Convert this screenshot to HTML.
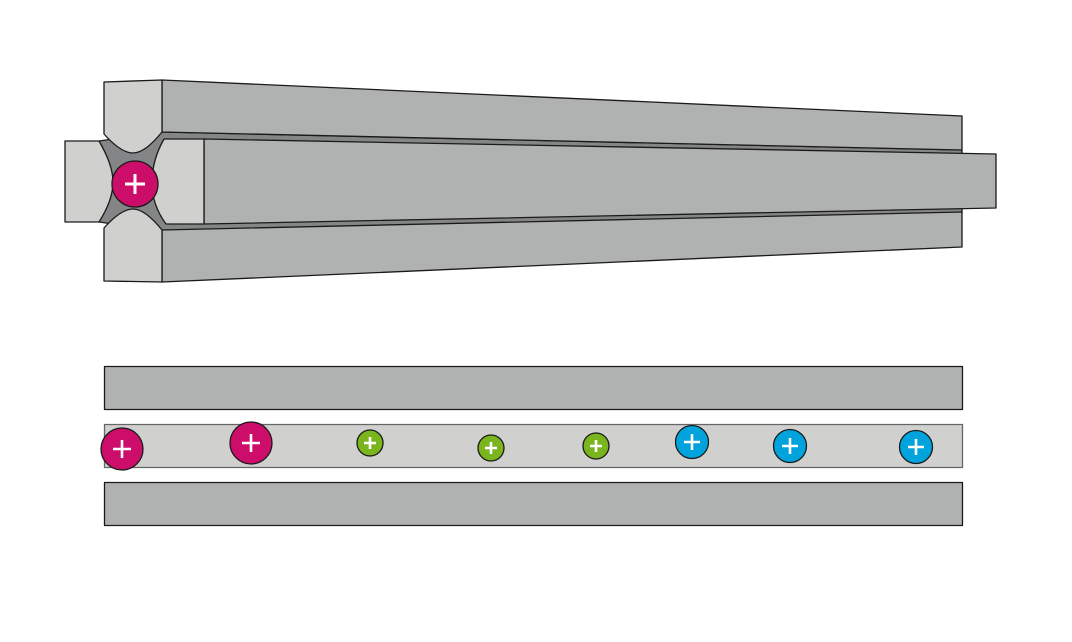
<!DOCTYPE html>
<html><head><meta charset="utf-8"><style>html,body{margin:0;padding:0;background:#fff}svg{display:block}</style></head>
<body>
<svg width="1072" height="642" viewBox="0 0 1072 642" xmlns="http://www.w3.org/2000/svg" stroke="#1a1a1a" stroke-width="1.3" stroke-linejoin="round">
<!-- dark gap region -->
<polygon points="99,141 162,132 962,150 962,213 162,231 99,222" fill="#838587"/>
<!-- top rod -->
<polygon points="162,80 962,116 962,150 162,132" fill="#b0b2b1"/>
<path d="M104,82 L162,80 L162,132 Q145,153 133,153 Q121,153 104,134 Z" fill="#d0d0cf"/>
<!-- bottom rod -->
<polygon points="162,230 962,212 962,247 162,282" fill="#b0b2b1"/>
<path d="M104,281 L162,282 L162,230 Q145,209 133,209 Q121,209 104,228 Z" fill="#d0d0cf"/>
<!-- left rod -->
<path d="M65,141 L99,141 Q113,165 113,182 Q113,200 99,222 L65,222 Z" fill="#d0d0cf"/>
<!-- middle/right rod -->
<polygon points="204,139 996,154 996,208 204,224" fill="#b0b2b1"/>
<path d="M164,139 L204,139 L204,224 L166,224 Q152,205 152,183 Q152,160 164,139 Z" fill="#d0d0cf"/>
<!-- ion in quadrupole -->
<circle cx="135" cy="184" r="23" fill="#cc0e6a"/>
<path d="M135,174 V194 M125,184 H145" stroke="#fff" stroke-width="3" fill="none"/>
<!-- bottom bars -->
<rect x="104.5" y="366.5" width="858" height="43" fill="#b0b2b1"/>
<rect x="104.5" y="424.5" width="858" height="43" fill="#d0d0cf" stroke="#666"/>
<rect x="104.5" y="482.5" width="858" height="43" fill="#b0b2b1"/>
<!-- ions -->
<g fill="#cc0e6a">
<circle cx="122" cy="449" r="21"/><circle cx="251" cy="443" r="21"/>
</g>
<g fill="#7ab51d">
<circle cx="370" cy="443" r="13"/><circle cx="491" cy="448" r="13"/><circle cx="596" cy="446" r="13"/>
</g>
<g fill="#00a3dc">
<circle cx="692" cy="442" r="16.5"/><circle cx="790" cy="446" r="16.5"/><circle cx="916" cy="447" r="16.5"/>
</g>
<g stroke="#fff" stroke-width="2.6" fill="none">
<path d="M122,440 V458 M113,449 H131"/>
<path d="M251,434 V452 M242,443 H260"/>
<path d="M370,437 V449 M364,443 H376"/>
<path d="M491,442 V454 M485,448 H497"/>
<path d="M596,440 V452 M590,446 H602"/>
<path d="M692,434 V450 M684,442 H700"/>
<path d="M790,438 V454 M782,446 H798"/>
<path d="M916,439 V455 M908,447 H924"/>
</g>
</svg>
</body></html>
